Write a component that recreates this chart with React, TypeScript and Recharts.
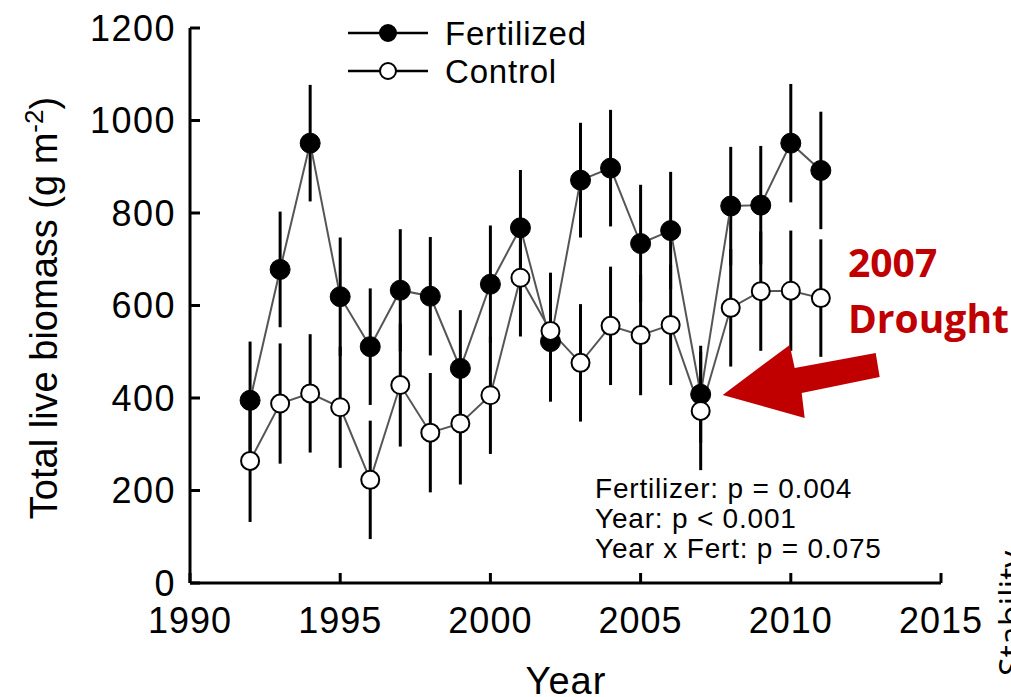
import {
  LineChart,
  Line,
  XAxis,
  YAxis,
  ErrorBar,
  Legend,
  ReferenceDot,
} from 'recharts'

/* values (g m-2) */
const years = [1992, 1993, 1994, 1995, 1996, 1997, 1998, 1999, 2000, 2001,
  2002, 2003, 2004, 2005, 2006, 2007, 2008, 2009, 2010, 2011]
const fertilized = [395, 678, 951, 619, 511, 633, 620, 464, 646, 768,
  522, 871, 897, 734, 762, 408, 815, 817, 951, 892]
const fertilizedErr = [127, 125, 126, 128, 126, 132, 128, 126, 127, 125,
  130, 124, 126, 127, 127, 105, 128, 128, 128, 127]
const control = [264, 388, 410, 380, 223, 428, 325, 345, 406, 660,
  545, 476, 556, 536, 558, 372, 595, 631, 632, 616]
const controlErr = [132, 130, 128, 131, 128, 133, 129, 132, 127, 127,
  126, 127, 128, 130, 130, 128, 127, 129, 130, 127]

const xTicks = [1990, 1995, 2000, 2005, 2010, 2015]
const yTicks = [0, 200, 400, 600, 800, 1000, 1200]
const statLines = ['Fertilizer: p = 0.004', 'Year: p < 0.001', 'Year x Fert: p = 0.075']

const FONT = '"Liberation Sans", Arial, sans-serif'
const RED = '#c00000'

const data = years.map((y, i) => ({
  year: y,
  fert: fertilized[i],
  fertErr: fertilizedErr[i],
  ctrl: control[i],
  ctrlErr: controlErr[i],
}))

function LegendBox() {
  const rows = [
    { name: 'Fertilized', fill: '#000' },
    { name: 'Control', fill: '#fff' },
  ]
  return (
    <svg width={280} height={80}>
      {rows.map((r, i) => {
        const cy = 25 + i * 38
        return (
          <g key={r.name}>
            <line x1={8} x2={88} y1={cy} y2={cy} stroke="#000" strokeWidth={2.5} />
            <circle cx={48} cy={cy} r={8} fill={r.fill} stroke="#000" strokeWidth={2} />
            <text x={105} y={cy + 11.5} fontSize={33} fontFamily={FONT} fill="#000" letterSpacing={0.8}>
              {r.name}
            </text>
          </g>
        )
      })}
    </svg>
  )
}

// red arrow pointing at the 2007 control point
function DroughtArrow(props: any) {
  const tx = props.cx + 22
  const ty = props.cy - 16
  const pts = [
    [0, 0], [67, -50], [72, -27], [153, -42], [157, -18], [79, -2], [82, 23],
  ].map(([dx, dy]) => `${tx + dx},${ty + dy}`).join(' ')
  return <polygon points={pts} fill={RED} />
}

export default function App() {
  return (
    <div style={{ position: 'fixed', left: 0, top: 0, width: 1011, height: 697, overflow: 'hidden', background: '#fff' }}>
      <LineChart
        width={1011}
        height={697}
        data={data}
        margin={{ top: 28, right: 70, left: 90, bottom: 54 }}
      >
        <XAxis
          dataKey="year"
          type="number"
          domain={[1990, 2015]}
          ticks={xTicks}
          height={60}
          tickSize={-10}
          tickMargin={34}
          axisLine={{ stroke: '#000', strokeWidth: 3 }}
          tickLine={{ stroke: '#000', strokeWidth: 3 }}
          tick={{ fill: '#000', fontSize: 36, fontFamily: FONT, letterSpacing: 1 }}
        />
        <YAxis
          type="number"
          domain={[0, 1200]}
          ticks={yTicks}
          width={100}
          tickSize={-10}
          tickMargin={24}
          axisLine={{ stroke: '#000', strokeWidth: 3 }}
          tickLine={{ stroke: '#000', strokeWidth: 3 }}
          tick={{ fill: '#000', fontSize: 36, fontFamily: FONT, letterSpacing: 1.5 }}
        />

        <Legend
          layout="vertical"
          align="center"
          verticalAlign="middle"
          content={() => <LegendBox />}
          wrapperStyle={{ left: 340, top: 8, width: 280, height: 80 }}
        />

        <Line
          dataKey="fert"
          stroke="#555"
          strokeWidth={2}
          dot={{ r: 10, fill: '#000', stroke: '#000', strokeWidth: 1 }}
          isAnimationActive={false}
        >
          <ErrorBar dataKey="fertErr" width={0} stroke="#000" strokeWidth={3} />
        </Line>
        <Line
          dataKey="ctrl"
          stroke="#555"
          strokeWidth={2}
          dot={{ r: 9, fill: '#fff', stroke: '#000', strokeWidth: 2 }}
          isAnimationActive={false}
        >
          <ErrorBar dataKey="ctrlErr" width={0} stroke="#000" strokeWidth={3} />
        </Line>

        <ReferenceDot x={2007} y={372} shape={DroughtArrow} />

        {/* axis titles */}
        <text
          x={57}
          y={308}
          transform="rotate(-90 57 308)"
          textAnchor="middle"
          fontSize={38}
          fontFamily={FONT}
          fill="#000"
        >
          Total live biomass (g m<tspan dy={-14} fontSize={26}>-2</tspan><tspan dy={14}>)</tspan>
        </text>
        <text x={566} y={694} textAnchor="middle" fontSize={38} fontFamily={FONT} fill="#000" letterSpacing={1}>
          Year
        </text>

        {/* stats */}
        {statLines.map((s, i) => (
          <text key={s} x={595} y={498 + i * 30} fontSize={28} fontFamily={FONT} fill="#000" letterSpacing={0.8}>
            {s}
          </text>
        ))}

        {/* drought note */}
        <text x={848} y={277} fontSize={39} fontWeight="bold" fontFamily='"Open Sans", sans-serif' fill={RED}>
          2007
        </text>
        <text x={848} y={333} fontSize={39} fontWeight="bold" fontFamily='"Open Sans", sans-serif' fill={RED}>
          Drought
        </text>

        {/* neighbouring panel label cut at the edge */}
        <text
          x={1024}
          y={676}
          transform="rotate(-90 1024 676)"
          fontSize={34}
          fontFamily='"Open Sans", sans-serif'
          fill="#000"
        >
          Stability
        </text>
      </LineChart>
    </div>
  )
}
